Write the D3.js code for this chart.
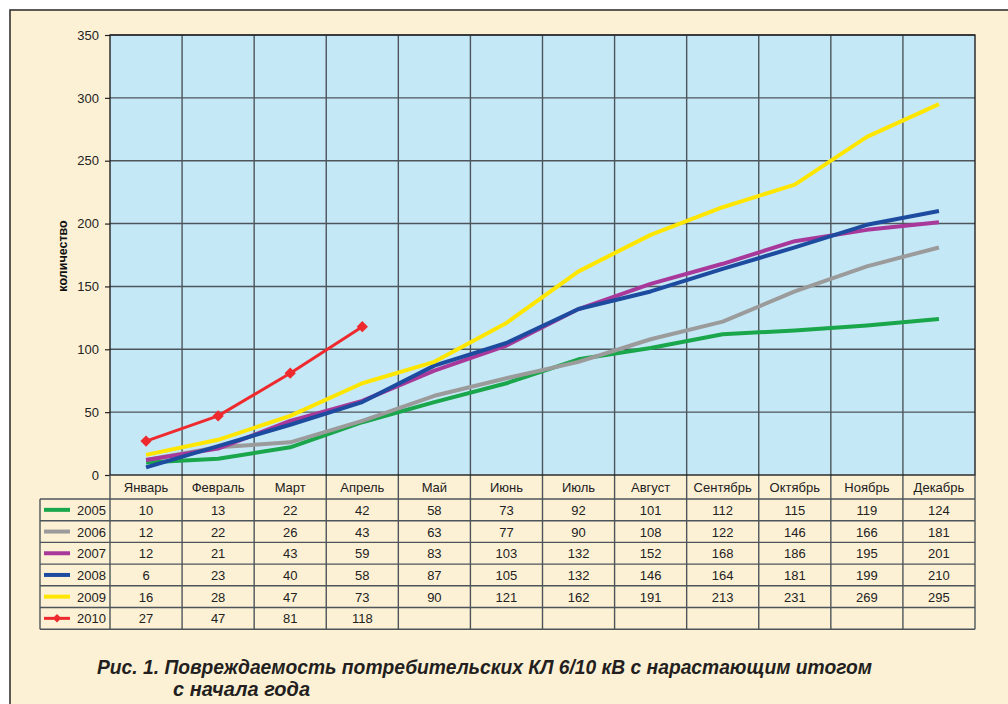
<!DOCTYPE html>
<html>
<head>
<meta charset="utf-8">
<script src="https://cdn.jsdelivr.net/npm/d3@7"></script>
<style>
  body { margin: 0; background: #fff; }
  svg { display: block; font-family: "Liberation Sans", Arial, sans-serif; }
</style>
</head>
<body>
<svg id="chart" width="1008" height="704"></svg>
<script>
// months (categories)
var months = ['Январь', 'Февраль', 'Март', 'Апрель', 'Май', 'Июнь', 'Июль',
              'Август', 'Сентябрь', 'Октябрь', 'Ноябрь', 'Декабрь'];

// cumulative damage counts per year
var years = ['2005', '2006', '2007', '2008', '2009', '2010'];
var v2005 = [10, 13, 22, 42, 58, 73, 92, 101, 112, 115, 119, 124];
var v2006 = [12, 22, 26, 43, 63, 77, 90, 108, 122, 146, 166, 181];
var v2007 = [12, 21, 43, 59, 83, 103, 132, 152, 168, 186, 195, 201];
var v2008 = [6, 23, 40, 58, 87, 105, 132, 146, 164, 181, 199, 210];
var v2009 = [16, 28, 47, 73, 90, 121, 162, 191, 213, 231, 269, 295];
var v2010 = [27, 47, 81, 118];

var yTicks = [0, 50, 100, 150, 200, 250, 300, 350];
var colors = ['#1aa64a', '#9b9b9b', '#a8399a', '#1d4b9f', '#ffe600', '#ee2a2e'];

var seriesValues = [v2005, v2006, v2007, v2008, v2009, v2010];

var svg = d3.select('#chart');

/* Layout */
var plot = { left: 110, right: 975, top: 35, bottom: 475 };
var rowH = 21.7;
var headerBottom = 499;
var legendLeft = 40;

// outer frame
svg.append('rect')
    .attr('x', 10).attr('y', 10)
    .attr('width', 1010).attr('height', 710)
    .attr('fill', '#fdf1d5')
    .attr('stroke', '#333')
    .attr('stroke-width', 1.6);

var x = d3.scaleBand()
    .domain(months)
    .range([plot.left, plot.right]);

var y = d3.scaleLinear()
    .domain([0, 350])
    .range([plot.bottom, plot.top]);

// plot background
svg.append('rect')
    .attr('x', plot.left).attr('y', plot.top)
    .attr('width', plot.right - plot.left)
    .attr('height', plot.bottom - plot.top)
    .attr('fill', '#c5e8f7');

var grid = svg.append('g').attr('class', 'grid');

// horizontal gridlines
grid.selectAll('line.h')
    .data(yTicks.slice(1))
    .enter()
    .append('line')
    .attr('class', 'h')
    .attr('x1', plot.left).attr('x2', plot.right)
    .attr('y1', function (d) { return y(d); })
    .attr('y2', function (d) { return y(d); })
    .attr('stroke', '#4d555a')
    .attr('stroke-width', 1.4);

// vertical gridlines run down through the data table
var tableBottom = headerBottom + rowH * years.length;
grid.selectAll('line.v')
    .data(months.slice(1))
    .enter()
    .append('line')
    .attr('class', 'v')
    .attr('x1', function (d) { return x(d); })
    .attr('x2', function (d) { return x(d); })
    .attr('y1', plot.top).attr('y2', tableBottom)
    .attr('stroke', '#4d555a')
    .attr('stroke-width', 1.4);

// plot border
svg.append('rect')
    .attr('x', plot.left).attr('y', plot.top)
    .attr('width', plot.right - plot.left)
    .attr('height', plot.bottom - plot.top)
    .attr('fill', 'none')
    .attr('stroke', '#222')
    .attr('stroke-width', 1.4);

// y axis
var yAxis = d3.axisLeft(y)
    .tickValues(yTicks)
    .tickSize(5)
    .tickPadding(6);

var yg = svg.append('g')
    .attr('transform', 'translate(' + plot.left + ',0)')
    .call(yAxis);
yg.select('.domain').remove();
yg.selectAll('.tick line').attr('stroke', '#222').attr('stroke-width', 1.2);
yg.selectAll('.tick text')
    .attr('font-size', 13)
    .attr('fill', '#222')
    .style('font-family', '"Liberation Sans", Arial, sans-serif');

svg.append('text')
    .attr('transform', 'translate(67,256) rotate(-90)')
    .attr('text-anchor', 'middle')
    .attr('font-size', 12.5)
    .attr('font-weight', 'bold')
    .attr('fill', '#111')
    .text('количество');

/* Data table */
var table = svg.append('g').attr('class', 'table');

// month header labels
table.selectAll('text.month')
    .data(months)
    .enter()
    .append('text')
    .attr('class', 'month')
    .attr('x', function (d) { return x(d) + x.bandwidth() / 2; })
    .attr('y', plot.bottom + 17)
    .attr('text-anchor', 'middle')
    .attr('font-size', 13)
    .attr('fill', '#222')
    .text(function (d) { return d; });

// horizontal table lines
var rowLines = d3.range(years.length + 1).map(function (i) { return headerBottom + i * rowH; });
table.selectAll('line.row')
    .data(rowLines)
    .enter()
    .append('line')
    .attr('class', 'row')
    .attr('x1', legendLeft).attr('x2', plot.right)
    .attr('y1', function (d) { return d; })
    .attr('y2', function (d) { return d; })
    .attr('stroke', '#4d555a')
    .attr('stroke-width', 1.4);

// table verticals: legend left edge, plot left edge, right edge
[legendLeft, plot.left, plot.right].forEach(function (xx, i) {
    table.append('line')
        .attr('x1', xx).attr('x2', xx)
        .attr('y1', i === 0 ? headerBottom : plot.bottom)
        .attr('y2', tableBottom)
        .attr('stroke', '#4d555a')
        .attr('stroke-width', 1.4);
});

// diamond marker: a rotated square
var diamond = function (side) {
    return d3.symbol(d3.symbolSquare, side * side)();
};

years.forEach(function (yr, i) {
    var cy = headerBottom + i * rowH + rowH / 2;
    var row = table.append('g');

    row.append('line')
        .attr('x1', legendLeft + 4).attr('x2', legendLeft + 30)
        .attr('y1', cy).attr('y2', cy)
        .attr('stroke', colors[i])
        .attr('stroke-width', i === 5 ? 3 : 4);
    if (i === 5) {
        row.append('path')
            .attr('d', diamond(6))
            .attr('transform', 'translate(' + (legendLeft + 17) + ',' + cy + ') rotate(45)')
            .attr('fill', colors[i]);
    }
    row.append('text')
        .attr('x', plot.left - 4)
        .attr('y', cy + 5)
        .attr('text-anchor', 'end')
        .attr('font-size', 13)
        .attr('fill', '#222')
        .text(yr);

    row.selectAll('text.val')
        .data(seriesValues[i])
        .enter()
        .append('text')
        .attr('class', 'val')
        .attr('x', function (d, j) { return x(months[j]) + x.bandwidth() / 2; })
        .attr('y', cy + 5)
        .attr('text-anchor', 'middle')
        .attr('font-size', 13)
        .attr('fill', '#222')
        .text(function (d) { return d; });
});

/* Series lines */
var line = d3.line()
    .x(function (d, j) { return x(months[j]) + x.bandwidth() / 2; })
    .y(function (d) { return y(d); });

var linesGroup = svg.append('g').attr('class', 'lines');
seriesValues.forEach(function (vals, i) {
    linesGroup.append('path')
        .attr('d', line(vals))
        .attr('fill', 'none')
        .attr('stroke', colors[i])
        .attr('stroke-width', i === 5 ? 3 : 4)
        .attr('stroke-linejoin', 'round');
});

// 2010 diamond markers
linesGroup.selectAll('path.marker')
    .data(v2010)
    .enter()
    .append('path')
    .attr('class', 'marker')
    .attr('d', diamond(8))
    .attr('transform', function (d, j) {
        return 'translate(' + (x(months[j]) + x.bandwidth() / 2) + ',' + y(d) + ') rotate(45)';
    })
    .attr('fill', colors[5]);

/* Caption */
var caption = svg.append('g')
    .attr('font-size', 19.5)
    .attr('font-weight', 'bold')
    .attr('font-style', 'italic')
    .attr('fill', '#231f20');

caption.append('text')
    .attr('x', 97).attr('y', 674)
    .attr('textLength', 775)
    .attr('lengthAdjust', 'spacingAndGlyphs')
    .text('Рис. 1. Повреждаемость потребительских КЛ 6/10 кВ с нарастающим итогом');
caption.append('text')
    .attr('x', 173).attr('y', 696)
    .attr('textLength', 137)
    .attr('lengthAdjust', 'spacingAndGlyphs')
    .text('с начала года');
</script>
</body>
</html>
